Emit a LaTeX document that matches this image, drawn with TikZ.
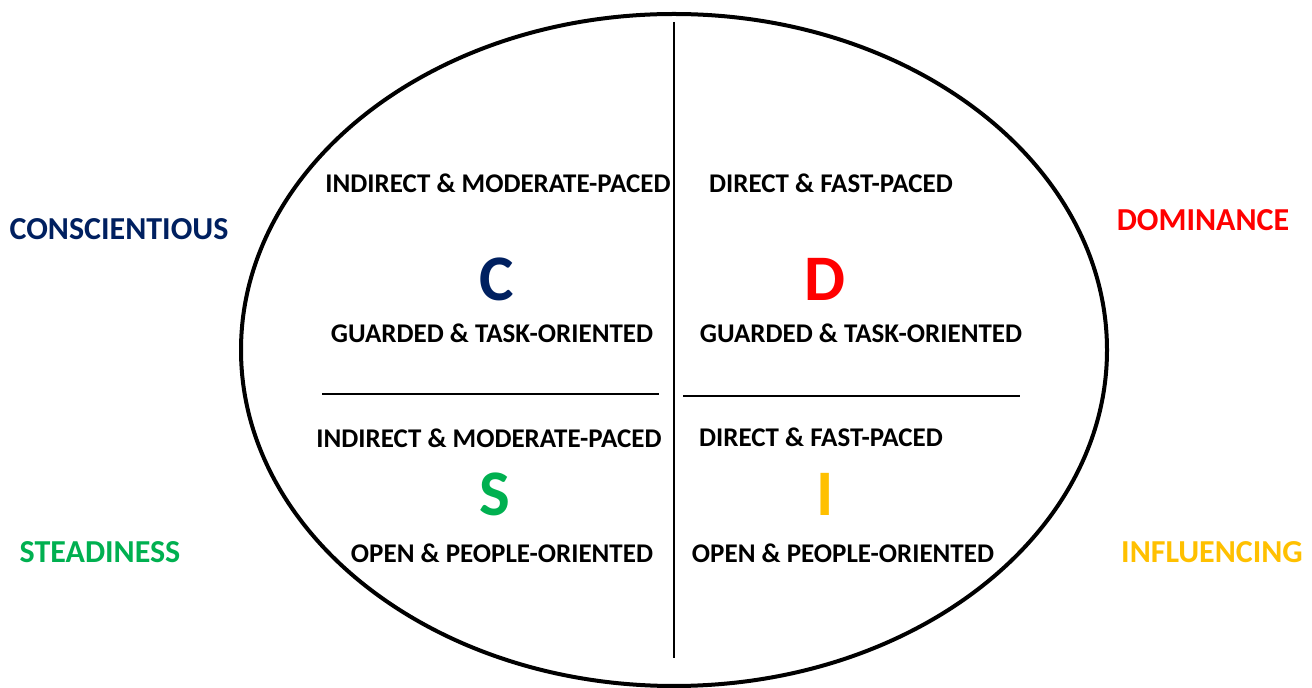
\documentclass[tikz,border=0pt]{standalone}
\usepackage{fontspec}
\setmainfont{Carlito}
\definecolor{cnavy}{HTML}{002060}
\definecolor{dred}{HTML}{FF0000}
\definecolor{sgreen}{HTML}{00B050}
\definecolor{iamber}{HTML}{FFC000}

\begin{document}
\begin{tikzpicture}[x=0.5pt,y=-0.5pt,
  desc/.style={font=\fontsize{13.5}{16}\selectfont\bfseries,inner sep=0pt},
  side/.style={font=\fontsize{16}{19}\selectfont\bfseries,inner sep=0pt},
  letter/.style={font=\fontsize{32.5}{36}\selectfont\bfseries,inner sep=0pt}]
\useasboundingbox (0,0) rectangle (1312,688);

\draw[line width=2pt] (674,350) ellipse [x radius=216.5pt, y radius=168pt];
\draw[line width=0.75pt] (674,22) -- (674,658);

\draw[line width=0.8pt] (322,394) -- (659,394);
\draw[line width=0.8pt] (683,396) -- (1020,396);

\node[side,text=cnavy] (conscientious) at (119,229) {CONSCIENTIOUS};
\node[side,text=sgreen] (steadiness) at (100,552) {STEADINESS};
\node[side,text=dred] (dominance) at (1203,220) {DOMINANCE};
\node[side,text=iamber] (influencing) at (1212,552) {INFLUENCING};

\node[desc] (cpace) at (498,183) {INDIRECT \& MODERATE-PACED};
\node[letter,text=cnavy] (c) at (497,279) {C};
\node[desc] (cfocus) at (492,333) {GUARDED \& TASK-ORIENTED};

\node[desc] (dpace) at (831,183) {DIRECT \& FAST-PACED};
\node[letter,text=dred] (d) at (825,279) {D};
\node[desc] (dfocus) at (861,333) {GUARDED \& TASK-ORIENTED};

\node[desc] (space) at (489,438) {INDIRECT \& MODERATE-PACED};
\node[letter,text=sgreen] (s) at (495,494) {S};
\node[desc] (sfocus) at (502,553) {OPEN \& PEOPLE-ORIENTED};

\node[desc] (ipace) at (821,437) {DIRECT \& FAST-PACED};
\node[letter,text=iamber] (i) at (825,494) {I};
\node[desc] (ifocus) at (843,553) {OPEN \& PEOPLE-ORIENTED};
\end{tikzpicture}
\end{document}
